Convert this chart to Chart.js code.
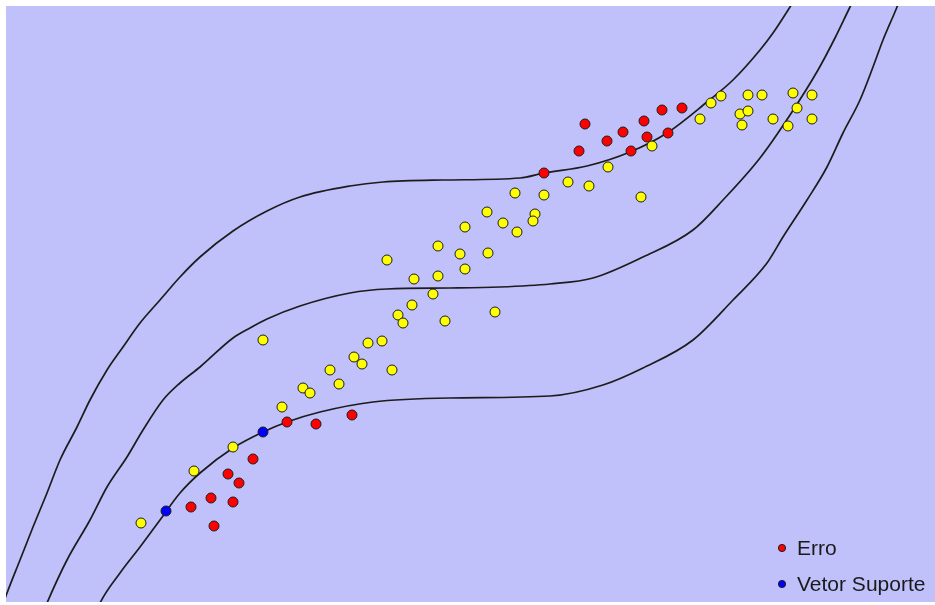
<!DOCTYPE html>
<html>
<head>
<meta charset="utf-8">
<script src="https://cdn.jsdelivr.net/npm/chart.js@4"></script>
<style>
  body { margin: 0; background: #ffffff; }
  #wrap { width: 935px; height: 605px; position: relative; }
</style>
</head>
<body>
<div id="wrap"><canvas id="svrChart"></canvas></div>
<script>
// sample points (x, y)
const acertos = [
  [5.09,4.09],[5.38,4.07],[4.81,3.90],[4.59,3.75],[4.97,3.79],[5.11,3.70],[5.29,3.88],[5.27,3.81],
  [4.32,3.56],[4.54,3.48],[4.82,3.49],[4.59,3.33],[3.81,3.42],[4.08,3.23],[4.32,3.26],[4.27,3.08],
  [4.06,2.97],[3.92,2.87],[3.97,2.79],[4.39,2.81],[4.89,2.90],[2.57,2.62],[3.62,2.59],[3.76,2.61],
  [3.48,2.45],[3.56,2.38],[3.24,2.32],[3.86,2.32],[3.33,2.18],[2.97,2.14],[3.04,2.09],[2.76,1.95],
  [2.27,1.55],[1.88,1.31],[1.35,0.79],[5.62,4.20],[5.83,4.16],[6.02,4.35],[6.35,4.05],[6.46,4.56],
  [6.94,4.83],[7.05,4.99],[7.15,5.06],[7.42,5.07],[7.56,5.07],[7.34,4.88],[7.42,4.91],[7.36,4.77],
  [7.67,4.83],[7.82,4.76],[7.91,4.94],[7.87,5.09],[8.06,5.07],[8.06,4.83]
];
const erros = [
  [5.79,4.78],[5.73,4.51],[6.01,4.61],[6.17,4.70],[6.38,4.81],[6.56,4.92],[6.76,4.94],[6.41,4.65],
  [6.62,4.69],[6.25,4.51],[5.38,4.29],[2.81,1.80],[3.10,1.78],[3.46,1.87],[2.47,1.43],[2.22,1.28],
  [2.33,1.19],[2.05,1.04],[2.27,1.00],[1.85,0.95],[2.08,0.76]
];
const vetoresSuporte = [[2.57,1.70],[1.60,0.91]];

// regression curve and epsilon tube
const tuboSuperior = [
  [-0.03,-0.02],[0.01,0.09],[0.14,0.42],[0.27,0.75],[0.41,1.09],[0.54,1.42],[0.71,1.75],[0.84,2.02],
  [1.01,2.32],[1.17,2.55],[1.34,2.79],[1.54,3.02],[1.74,3.25],[1.94,3.45],[2.27,3.71],[2.61,3.91],
  [2.94,4.05],[3.44,4.16],[3.77,4.20],[4.37,4.22],[5.14,4.24],[5.38,4.29],[5.81,4.36],[6.24,4.50],
  [6.61,4.69],[7.01,5.00],[7.27,5.22],[7.54,5.52],[7.67,5.69],[7.84,5.95],[7.89,6.03]
];
const curvaRegressao = [
  [0.39,-0.06],[0.41,-0.01],[0.61,0.42],[0.84,0.82],[1.01,1.15],[1.21,1.45],[1.37,1.72],[1.57,2.02],
  [1.74,2.19],[1.94,2.35],[2.27,2.64],[2.44,2.74],[2.61,2.83],[2.94,2.96],[3.44,3.09],[3.81,3.13],
  [4.44,3.14],[4.94,3.15],[5.44,3.18],[5.87,3.24],[6.37,3.45],[6.87,3.72],[7.17,4.02],[7.54,4.44],
  [7.84,4.87],[8.12,5.32],[8.29,5.64],[8.44,5.95],[8.48,6.03]
];
const tuboInferior = [
  [0.92,-0.06],[0.94,-0.01],[1.14,0.29],[1.34,0.55],[1.54,0.82],[1.74,1.09],[1.94,1.29],[2.27,1.54],
  [2.57,1.70],[2.81,1.80],[3.14,1.90],[3.67,2.00],[4.44,2.04],[5.44,2.06],[5.97,2.17],[6.37,2.34],
  [6.87,2.62],[7.27,3.02],[7.61,3.39],[7.77,3.65],[8.01,4.02],[8.21,4.35],[8.37,4.69],[8.54,5.02],
  [8.67,5.35],[8.77,5.62],[8.91,5.95],[8.94,6.03]
];

const legendLabels = ["Erro", "Vetor Suporte"];

const toXY = (arr) => arr.map((p) => ({ x: p[0], y: p[1] }));

const pointSet = (label, data, color) => ({
  type: "scatter",
  label: label,
  data: toXY(data),
  backgroundColor: color,
  borderColor: "#1e1e1e",
  borderWidth: 1,
  pointRadius: 5,
  order: 0,
});

const lineSet = (label, data) => ({
  type: "line",
  label: label,
  data: toXY(data),
  borderColor: "#1c1c1c",
  borderWidth: 1.7,
  pointRadius: 0,
  fill: false,
  cubicInterpolationMode: "monotone",
  order: 1,
});

const bgPlugin = {
  id: "plotBg",
  beforeDraw(chart) {
    const { ctx, chartArea } = chart;
    ctx.save();
    ctx.fillStyle = "#c0c0fa";
    ctx.fillRect(chartArea.left, chartArea.top, chartArea.right - chartArea.left, chartArea.bottom - chartArea.top);
    ctx.restore();
  },
};

// small legend in the lower right corner
const legendPlugin = {
  id: "cornerLegend",
  afterDraw(chart) {
    const { ctx, chartArea } = chart;
    ctx.save();
    ctx.font = "21px 'Liberation Sans', Arial, sans-serif";
    ctx.textBaseline = "middle";
    legendLabels.forEach((name, i) => {
      const d = chart.data.datasets.find((ds) => ds.label === name);
      const y = chartArea.bottom - 54 + i * 36;
      const x = chartArea.right - 153;
      ctx.beginPath();
      ctx.arc(x, y, 3.6, 0, Math.PI * 2);
      ctx.fillStyle = d.backgroundColor;
      ctx.fill();
      ctx.lineWidth = 1;
      ctx.strokeStyle = "#1e1e1e";
      ctx.stroke();
      ctx.fillStyle = "#1a1a1a";
      ctx.fillText(name, x + 15, y + 1);
    });
    ctx.restore();
  },
};

new Chart(document.getElementById("svrChart"), {
  data: {
    datasets: [
      pointSet("Vetor Suporte", vetoresSuporte, "#0000ff"),
      pointSet("Erro", erros, "#ff0000"),
      pointSet("Acerto", acertos, "#ffff00"),
      lineSet("Tubo superior", tuboSuperior),
      lineSet("Regressão", curvaRegressao),
      lineSet("Tubo inferior", tuboInferior),
    ],
  },
  options: {
    responsive: true,
    maintainAspectRatio: false,
    animation: false,
    layout: { autoPadding: false, padding: { left: 6, top: 6, right: 0, bottom: 3 } },
    plugins: {
      legend: { display: false },
      tooltip: { enabled: false },
    },
    scales: {
      x: { type: "linear", min: 0, max: 9.29, display: false },
      y: { type: "linear", min: 0, max: 5.96, display: false },
    },
  },
  plugins: [bgPlugin, legendPlugin],
});
</script>
</body>
</html>
